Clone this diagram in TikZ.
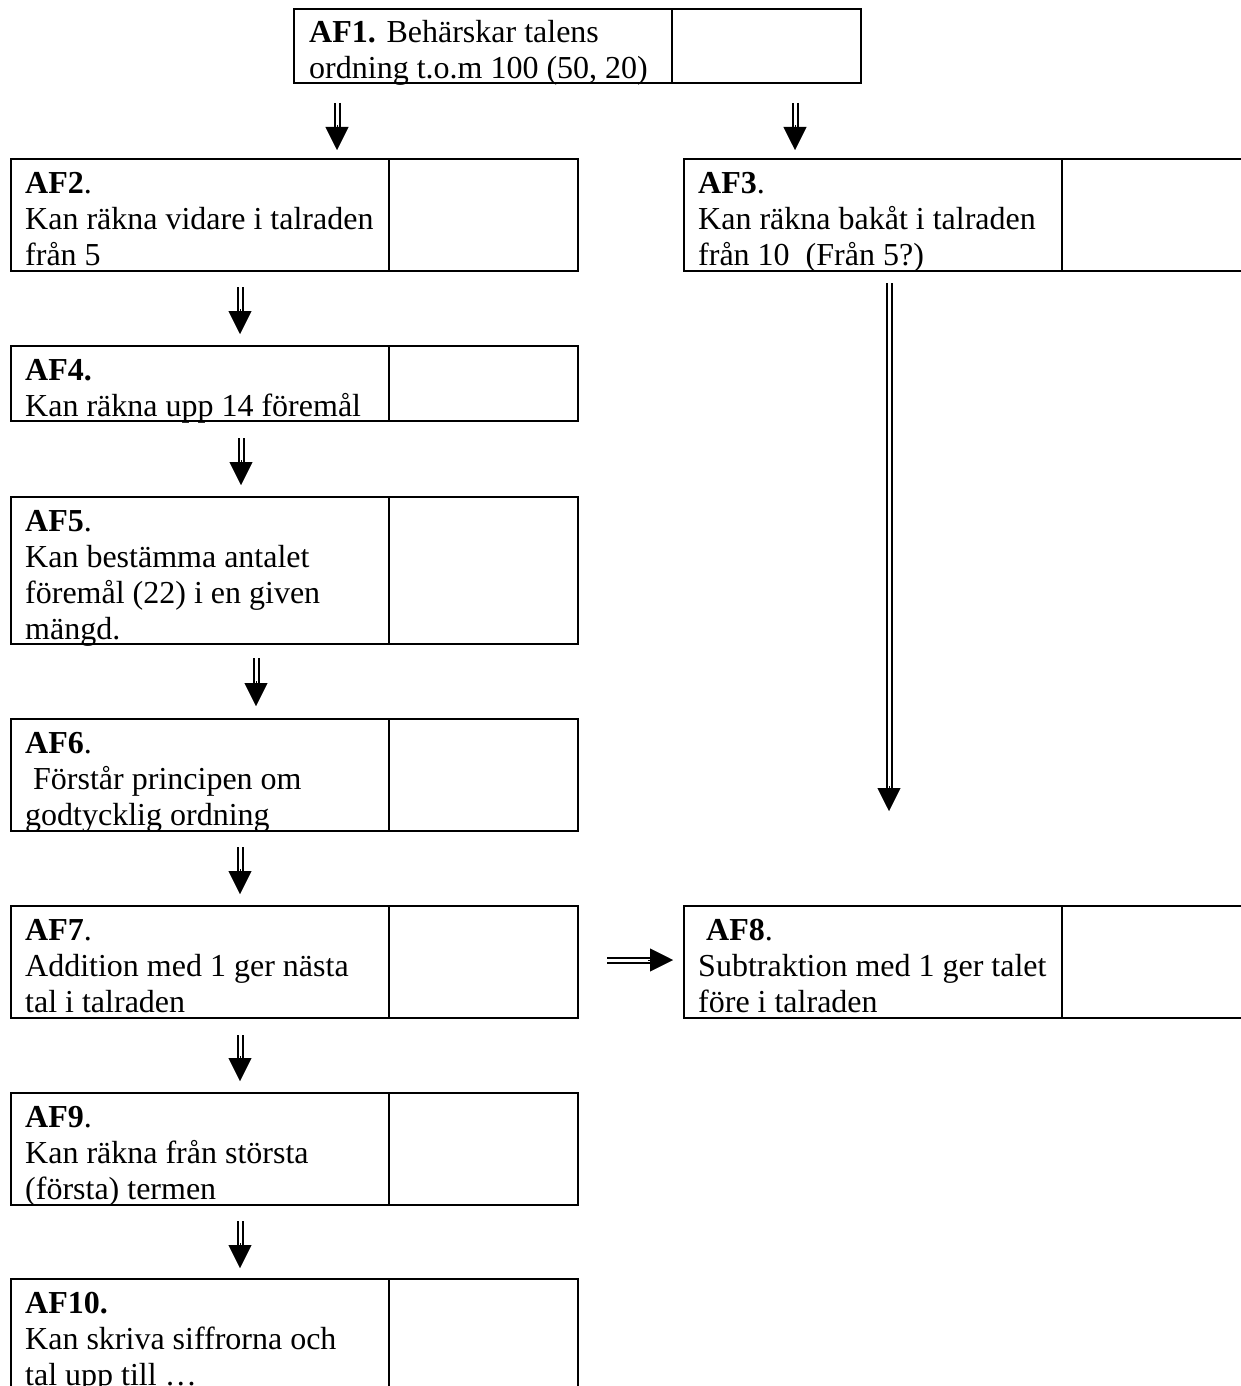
\documentclass[tikz,border=0pt]{standalone}
\usepackage{fontspec}
\setmainfont{Liberation Serif}
\usetikzlibrary{arrows.meta,calc}

\tikzset{
  cell/.style={draw, line width=2pt, inner sep=0pt, outer sep=0pt,
    minimum width=378pt, anchor=north west},
  blank/.style={draw, line width=2pt, inner sep=0pt, outer sep=0pt,
    minimum width=189pt, anchor=north west},
  txt/.style={anchor=north west, inner sep=0pt, align=left,
    font=\fontsize{32}{36}\selectfont},
  shaft/.style={double, double distance=3pt, line width=2pt, shorten >=18pt},
  tiphead/.style={line width=0.4pt, -{Triangle[length=23pt,width=23pt]}},
}

% double-lined connector with a solid triangular head
\newcommand{\dblarrowto}[2]{%
  \draw[shaft] (#1) -- (#2);
  \draw[tiphead] ($(#2)!25pt!(#1)$) -- (#2);
}

\begin{document}
\begin{tikzpicture}[x=1pt,y=-1pt]
\clip (0,0) rectangle (1241,1386);
\fill[white] (0,0) rectangle (1241,1386);

% ---- boxes: a text cell followed by an empty cell ----
\node[cell, minimum height=74pt] (af1) at (294,9) {};
\node[blank, minimum height=74pt] (af1b) at (af1.north east) {};
\node[txt] (t1) at ($(af1.north west)+(15,8.5)$)
  {\strut\textbf{AF1.} Behärskar talens\\ordning t.o.m 100 (50, 20)};

\node[cell, minimum height=112pt] (af2) at (11,159) {};
\node[blank, minimum height=112pt] (af2b) at (af2.north east) {};
\node[txt] (t2) at ($(af2.north west)+(14,9)$)
  {\strut\textbf{AF2}.\\Kan räkna vidare i talraden\\från 5};

\node[cell, minimum height=112pt] (af3) at (684,159) {};
\node[blank, minimum height=112pt] (af3b) at (af3.north east) {};
\node[txt] (t3) at ($(af3.north west)+(14,9)$)
  {\strut\textbf{AF3}.\\Kan räkna bakåt i talraden\\från 10\ \ (Från 5?)};

\node[cell, minimum height=75pt] (af4) at (11,346) {};
\node[blank, minimum height=75pt] (af4b) at (af4.north east) {};
\node[txt] (t4) at ($(af4.north west)+(14,9)$)
  {\strut\textbf{AF4.}\\Kan räkna upp 14 föremål};

\node[cell, minimum height=147pt] (af5) at (11,497) {};
\node[blank, minimum height=147pt] (af5b) at (af5.north east) {};
\node[txt] (t5) at ($(af5.north west)+(14,9)$)
  {\strut\textbf{AF5}.\\Kan bestämma antalet\\föremål (22) i en given\\mängd.};

\node[cell, minimum height=112pt] (af6) at (11,719) {};
\node[blank, minimum height=112pt] (af6b) at (af6.north east) {};
\node[txt] (t6) at ($(af6.north west)+(14,9)$)
  {\strut\textbf{AF6}.\\\hspace*{0.25em}Förstår principen om\\godtycklig ordning};

\node[cell, minimum height=112pt] (af7) at (11,906) {};
\node[blank, minimum height=112pt] (af7b) at (af7.north east) {};
\node[txt] (t7) at ($(af7.north west)+(14,9)$)
  {\strut\textbf{AF7}.\\Addition med 1 ger nästa\\tal i talraden};

\node[cell, minimum height=112pt] (af8) at (684,906) {};
\node[blank, minimum height=112pt] (af8b) at (af8.north east) {};
\node[txt] (t8) at ($(af8.north west)+(14,9)$)
  {\strut\hspace*{0.25em}\textbf{AF8}.\\Subtraktion med 1 ger talet\\före i talraden};

\node[cell, minimum height=112pt] (af9) at (11,1093) {};
\node[blank, minimum height=112pt] (af9b) at (af9.north east) {};
\node[txt] (t9) at ($(af9.north west)+(14,9)$)
  {\strut\textbf{AF9}.\\Kan räkna från största\\(första) termen};

\node[cell, minimum height=112pt] (af10) at (11,1279) {};
\node[blank, minimum height=112pt] (af10b) at (af10.north east) {};
\node[txt] (t10) at ($(af10.north west)+(14,9)$)
  {\strut\textbf{AF10.}\\Kan skriva siffrorna och\\tal upp till …};

% ---- connector end points ----
\coordinate (c12s) at (337,103);  \coordinate (c12e) at (337,150);
\coordinate (c13s) at (795,103);  \coordinate (c13e) at (795,150);
\coordinate (c24s) at (240,287);  \coordinate (c24e) at (240,334);
\coordinate (c45s) at (241,438);  \coordinate (c45e) at (241,485);
\coordinate (c56s) at (256,658);  \coordinate (c56e) at (256,706);
\coordinate (c67s) at (240,847);  \coordinate (c67e) at (240,894);
\coordinate (c79s) at (240,1035); \coordinate (c79e) at (240,1081);
\coordinate (c910s) at (240,1221); \coordinate (c910e) at (240,1268);
\coordinate (c38s) at (889,283);  \coordinate (c38e) at (889,811);
\coordinate (c78s) at (607,960);  \coordinate (c78e) at (673,960);

% ---- connectors ----
\dblarrowto{c12s}{c12e}
\dblarrowto{c13s}{c13e}
\dblarrowto{c24s}{c24e}
\dblarrowto{c45s}{c45e}
\dblarrowto{c56s}{c56e}
\dblarrowto{c67s}{c67e}
\dblarrowto{c79s}{c79e}
\dblarrowto{c910s}{c910e}
\dblarrowto{c38s}{c38e}
\dblarrowto{c78s}{c78e}
\end{tikzpicture}
\end{document}
